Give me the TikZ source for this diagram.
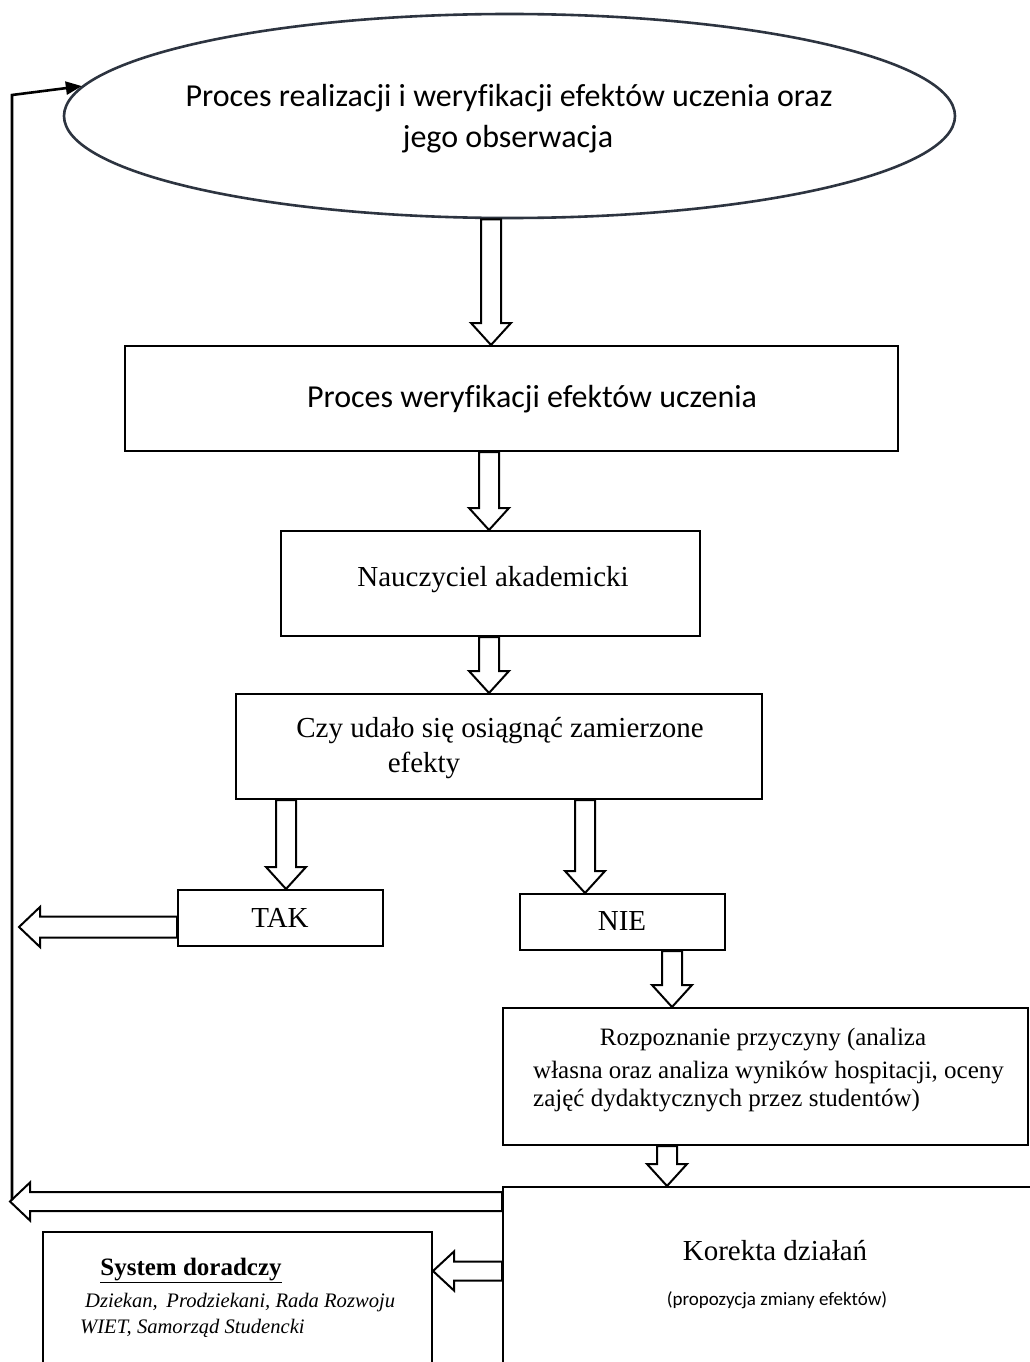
\documentclass[tikz,border=0pt]{standalone}
\usepackage{fontspec}
\setmainfont{Liberation Serif}
\newfontfamily\calfont[Ligatures=NoCommon]{Carlito}
\usetikzlibrary{shapes.geometric,arrows.meta,calc}
\tikzset{
  box/.style={draw=black, line width=2pt, rectangle, inner sep=0pt},
  blk/.style={draw=black, line width=2pt, fill=white, line join=miter},
  lbl/.style={inner sep=0pt, anchor=base},
  lblw/.style={inner sep=0pt, anchor=base west},
}
% down block arrow: x, from point, to point
\newcommand\darr[3]{\draw[blk] let \p1=(#2), \p2=(#3) in
  (#1-10,\y1) -- (#1-10,\y2+22) -- (#1-20,\y2+22) -- (#1,\y2) -- (#1+20,\y2+22) -- (#1+10,\y2+22) -- (#1+10,\y1) -- cycle;}
% left block arrow: y centre, from point, to point, shaft half, head half, head length
\newcommand\larr[6]{\draw[blk] let \p1=(#2), \p2=(#3) in
  (\x1,#1+#4) -- (\x2+#6,#1+#4) -- (\x2+#6,#1+#5) -- (\x2,#1) -- (\x2+#6,#1-#5) -- (\x2+#6,#1-#4) -- (\x1,#1-#4) -- cycle;}
\begin{document}
\begin{tikzpicture}[x=1pt,y=1pt]
\useasboundingbox[fill=white] (0,0) rectangle (1030,-1362);
% shapes
\node[ellipse, draw={rgb,255:red,45;green,52;blue,64}, line width=2.6pt, minimum width=891pt, minimum height=204pt, inner sep=0pt] (ell) at (509.5,-116) {};
\node[box, minimum width=773pt, minimum height=105pt] (b1) at (511.5,-398.5) {};
\node[box, minimum width=419pt, minimum height=105pt] (b2) at (490.5,-583.5) {};
\node[box, minimum width=526pt, minimum height=105pt] (b3) at (499,-746.5) {};
\node[box, minimum width=205pt, minimum height=56pt] (tak) at (280.5,-918) {};
\node[box, minimum width=205pt, minimum height=56pt] (nie) at (622.5,-922) {};
\node[box, minimum width=525pt, minimum height=137pt] (roz) at (765.5,-1076.5) {};
\node[box, minimum width=537pt, minimum height=213pt] (kor) at (771.5,-1293.5) {};
\node[box, minimum width=389pt, minimum height=168pt] (sys) at (237.5,-1316) {};
% texts
\node[lbl] (t1) at (509,-107) {\calfont\fontsize{32}{38}\selectfont Proces realizacji i weryfikacji efektów uczenia oraz};
\node[lbl] (t2) at (508,-147) {\calfont\fontsize{32}{38}\selectfont jego obserwacja};
\node[lbl] (t3) at (532,-407) {\calfont\fontsize{32}{38}\selectfont Proces weryfikacji efektów uczenia};
\node[lbl] (t4) at (493,-586) {\fontsize{29}{34}\selectfont Nauczyciel akademicki};
\node[lbl] (t5) at (500,-737) {\fontsize{29}{34}\selectfont Czy udało się osiągnąć zamierzone};
\node[lbl] (t6) at (424,-772) {\fontsize{29}{34}\selectfont efekty};
\node[lbl] (t7) at (280,-927) {\fontsize{29}{34}\selectfont TAK};
\node[lbl] (t8) at (622,-930) {\fontsize{29}{34}\selectfont NIE};
\node[lbl] (t9) at (763,-1045) {\fontsize{25}{30}\selectfont Rozpoznanie przyczyny (analiza};
\node[lblw] (t10) at (533,-1078) {\fontsize{25}{30}\selectfont własna oraz analiza wyników hospitacji, oceny};
\node[lblw] (t11) at (533,-1106) {\fontsize{25}{30}\selectfont zajęć dydaktycznych przez studentów)};
\node[lbl] (t12) at (775,-1260) {\fontsize{29}{34}\selectfont Korekta działań};
\node[lbl] (t13) at (777,-1305) {\calfont\fontsize{19}{23}\selectfont (propozycja zmiany efektów)};
\node[lbl] (t14) at (191,-1275) {\fontsize{25}{30}\selectfont\bfseries \underline{System doradczy}};
\node[lblw] (t15) at (85,-1307) {\fontsize{20.6}{25}\selectfont\itshape Dziekan,\, Prodziekani, Rada Rozwoju};
\node[lblw] (t16) at (80,-1333) {\fontsize{20.6}{25}\selectfont\itshape WIET, Samorząd Studencki};
% down block arrows
\darr{491}{ell.south}{b1.north}
\darr{489}{b1.south}{b2.north}
\darr{489}{b2.south}{b3.north}
\darr{286}{b3.south}{tak.north}
\darr{585}{b3.south}{nie.north}
\darr{672}{nie.south}{roz.north}
\darr{667}{roz.south}{kor.north}
% left block arrows
\coordinate (tipA) at (19,-927);
\coordinate (tipB) at (10,-1202);
\larr{-927}{tak.west}{tipA}{10.5}{20}{21}
\larr{-1201.5}{kor.west}{tipB}{9.5}{19}{20}
\larr{-1271}{kor.west}{sys.east}{9.5}{19.5}{21}
% feedback line
\coordinate (corner) at (12,-95);
\draw[line width=2.6pt, -{Triangle[length=16pt,width=13pt]}] (12,-1200) -- (corner) -- (ell.176);
\end{tikzpicture}
\end{document}
